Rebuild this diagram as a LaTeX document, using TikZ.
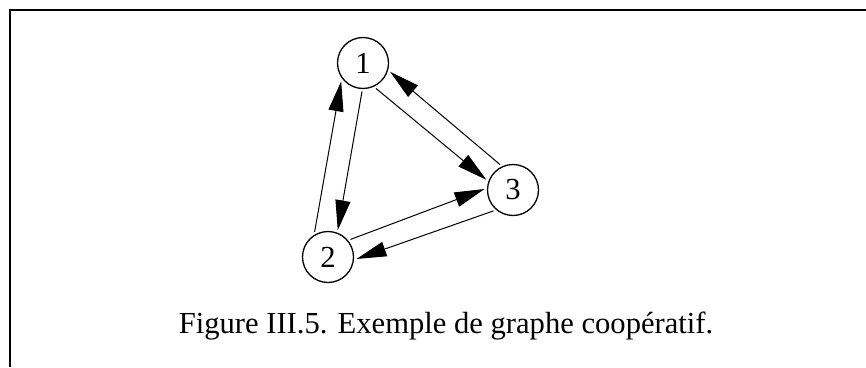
\documentclass[tikz,border=0pt]{standalone}
\usepackage{fontspec}
\setmainfont{Liberation Serif}
\usepackage{tikz}
\usetikzlibrary{arrows.meta}

\begin{document}
\begin{tikzpicture}[x=1pt,y=-1pt]
            \tikzstyle{frame}=[draw=black,line width=2pt]
            \tikzstyle{arc}=[draw=black,line width=1pt,-{Triangle[length=30pt,width=15pt]}]
            \tikzstyle{vertex}=[circle,line width=1.3pt,draw=black,fill=white,minimum size=51pt,inner sep=0pt,outer sep=3pt,font=\fontsize{30.6}{36}\selectfont]

            \useasboundingbox (0,0) rectangle (866,367);
            \path[frame] (9.5,367) -- (9.5,10) -- (866,10);

            \node[vertex] (v1) at (363,63)  {1};
            \node[vertex] (v2) at (328,257) {2};
            \node[vertex] (v3) at (513,190) {3};

            \path[arc] (v1.-92)  -- (v2.70);
            \path[arc] (v2.118)  -- (v1.-140);

            \path[arc] (v1.-63)  -- (v3.159);
            \path[arc] (v3.117)  -- (v1.-18);

            \path[arc] (v2.38)   -- (v3.178);
            \path[arc] (v3.-133) -- (v2.-4);

            \node[anchor=base,font=\fontsize{30.6}{36}\selectfont] (caption) at (446,333) {Figure III.5. Exemple de graphe coopératif.};
        \end{tikzpicture}
\end{document}
